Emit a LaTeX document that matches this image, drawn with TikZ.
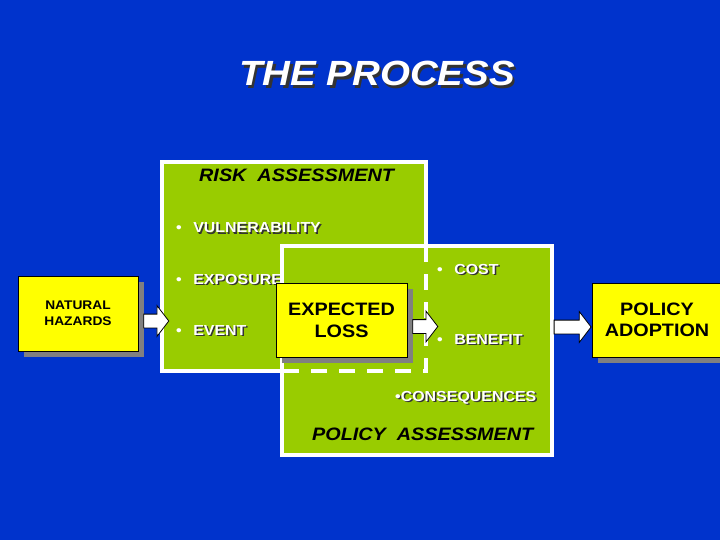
\documentclass[tikz,border=0pt]{standalone}
\usepackage{fontspec}
\setmainfont{Liberation Sans}[FakeStretch=1.1]
\usetikzlibrary{shapes.arrows,shadows}

\definecolor{bgblue}{RGB}{0,51,204}
\definecolor{assessgreen}{RGB}{153,204,0}
\definecolor{boxyellow}{RGB}{255,255,0}
\definecolor{shadowgray}{RGB}{128,128,128}

% white text with a dark copy behind it
\newcommand\shtxt[2][1.5pt]{\leavevmode\rlap{\kern#1\raisebox{-#1}{\textcolor{black!80}{#2}}}#2}
\newcommand\bul[1]{\textbullet\hspace{11.5pt}#1}

\tikzset{
	assessbox/.style={draw=white, line width=4pt, fill=assessgreen, inner sep=0pt, outer sep=0pt},
	stepbox/.style={draw=black, line width=0.8pt, fill=boxyellow, align=center, inner sep=0pt,
		drop shadow={shadow xshift=6pt, shadow yshift=-6pt, fill=shadowgray, opacity=1}},
	blockarrow/.style={single arrow, draw=black, fill=white, line width=0.8pt, inner sep=0pt,
		inner ysep=6.5pt, single arrow head extend=8.5pt, single arrow tip angle=105},
	itemtext/.style={text=white, anchor=base west, inner sep=0pt, font=\fontsize{14.5}{17}\selectfont\bfseries},
	heading/.style={anchor=base west, inner sep=0pt, font=\fontsize{18}{22}\selectfont\bfseries\itshape},
	dashline/.style={draw=white, line width=4pt, dash pattern=on 16pt off 12pt}
}

\begin{document}
\begin{tikzpicture}[x=1pt,y=-1pt]
		\fill[bgblue] (0,0) rectangle (720,540);
		\useasboundingbox (0,0) rectangle (720,540);

		\node[text=white, inner sep=0pt, font=\fontsize{35}{40}\selectfont\bfseries\itshape] (title) at (377,75) {\shtxt[2.5pt]{THE PROCESS}};

		% risk assessment
		\node[assessbox, minimum width=264pt, minimum height=209pt] (risk) at (294,266.5) {};
		\node[heading] (riskhead) at (199,182) {RISK\ \ ASSESSMENT};
		\node[itemtext] (vuln) at (176,233) {\bul{\shtxt{VULNERABILITY}}};
		\node[itemtext] (expo) at (176,284) {\bul{\shtxt{EXPOSURE}}};
		\node[itemtext] (event) at (176,335) {\bul{\shtxt{EVENT}}};

		% policy assessment
		\node[assessbox, minimum width=270pt, minimum height=209pt] (policy) at (417,350.5) {};
		\node[itemtext] (cost) at (437,274) {\bul{\shtxt{COST}}};
		\node[itemtext] (benefit) at (437,344) {\bul{\shtxt{BENEFIT}}};
		\node[itemtext] (conseq) at (395,401) {\shtxt{\textbullet CONSEQUENCES}};
		\node[heading] (polhead) at (312,440) {POLICY\ \ ASSESSMENT};

		\draw[dashline] (risk.south east |- policy.north) -- (risk.south east) -- (risk.south east -| policy.west);

		\node[stepbox, minimum width=120pt, minimum height=75pt, font=\fontsize{12.5}{16}\selectfont\bfseries] (nat) at (78,313.5) {NATURAL\\HAZARDS};
		\node[stepbox, minimum width=131pt, minimum height=74pt, font=\fontsize{18}{22}\selectfont\bfseries] (loss) at (341.5,320) {EXPECTED\\LOSS};
		\node[stepbox, minimum width=130pt, minimum height=74pt, font=\fontsize{18}{21}\selectfont\bfseries] (adopt) at (657,320) {POLICY\\ADOPTION};

		\node[blockarrow, anchor=tail, minimum height=25pt, xshift=5pt, yshift=-7.5pt] (nat2risk) at (nat.east) {};
		\node[blockarrow, anchor=tail, minimum height=25pt, xshift=5pt, yshift=-6.5pt] (loss2pol) at (loss.east) {};
		\node[blockarrow, anchor=tip, minimum height=37pt, yshift=-7pt] (pol2adopt) at (adopt.west) {};
	\end{tikzpicture}
\end{document}
